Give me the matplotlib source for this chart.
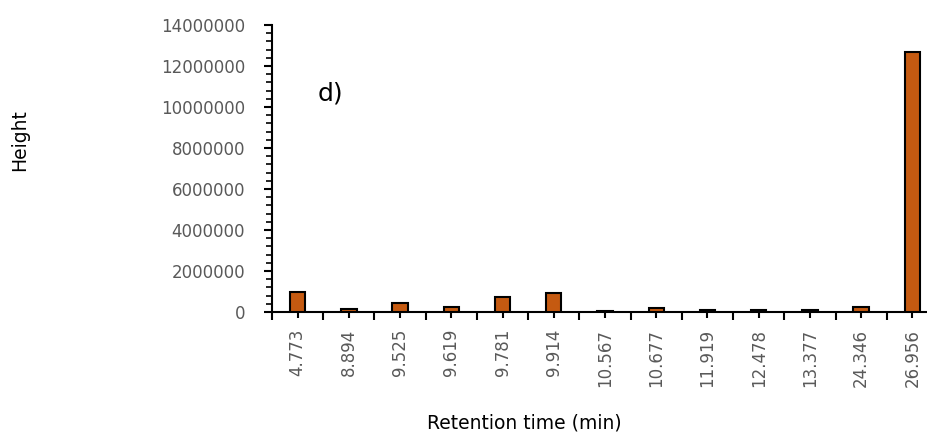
import matplotlib.pyplot as plt
from matplotlib.ticker import MultipleLocator, FixedLocator, StrMethodFormatter
import numpy as np

# retention times (min) and peak heights
retention = ['4.773', '8.894', '9.525', '9.619', '9.781', '9.914', '10.567',
             '10.677', '11.919', '12.478', '13.377', '24.346', '26.956']
height = [960000, 130000, 440000, 240000, 730000, 940000, 60000,
          180000, 80000, 110000, 80000, 240000, 12700000]

W, H = 927, 432
fig = plt.figure(figsize=(W / 100, H / 100), dpi=100)
# axes runs slightly past the right edge, like the clipped original
ax = fig.add_axes([272 / W, 120 / H, 666 / W, 287 / H])

x = np.arange(len(retention))
ax.bar(x, height, width=0.3, color='#C55A11', edgecolor='black', linewidth=1.5, zorder=3)

ax.set_xlim(-0.5, len(retention) - 0.5)
ax.set_ylim(0, 14000000)

for s in ['top', 'right']:
    ax.spines[s].set_visible(False)
ax.spines['left'].set_linewidth(1.5)
ax.spines['bottom'].set_linewidth(1.5)

ax.yaxis.set_major_locator(MultipleLocator(2000000))
ax.yaxis.set_minor_locator(MultipleLocator(400000))
ax.yaxis.set_major_formatter(StrMethodFormatter('{x:.0f}'))
ax.tick_params(axis='y', which='major', length=5.5, width=1.5, labelsize=12,
               labelcolor='#595959', pad=14)
ax.tick_params(axis='y', which='minor', length=4, width=1.2)

# category boundaries as major ticks, labels at centres
ax.xaxis.set_major_locator(FixedLocator(np.arange(-0.5, len(retention), 1.0)))
ax.set_xticklabels([''] * len(ax.get_xticks()))
ax.set_xticks(x, minor=True)
ax.set_xticklabels(retention, minor=True, rotation=90)
ax.tick_params(axis='x', which='major', length=5.5, width=1.5)
ax.tick_params(axis='x', which='minor', length=4, width=1.5, labelsize=12,
               labelcolor='#595959', pad=8)

fig.text(20 / W, 1 - 140 / H, 'Height', rotation=90, ha='center', va='center', fontsize=13.5)
fig.text(524 / W, 1 - 423 / H, 'Retention time (min)', ha='center', va='center', fontsize=13.5)
fig.text(330 / W, 1 - 93 / H, 'd)', ha='center', va='center', fontsize=18)

fig.savefig('out.png', dpi=100)
